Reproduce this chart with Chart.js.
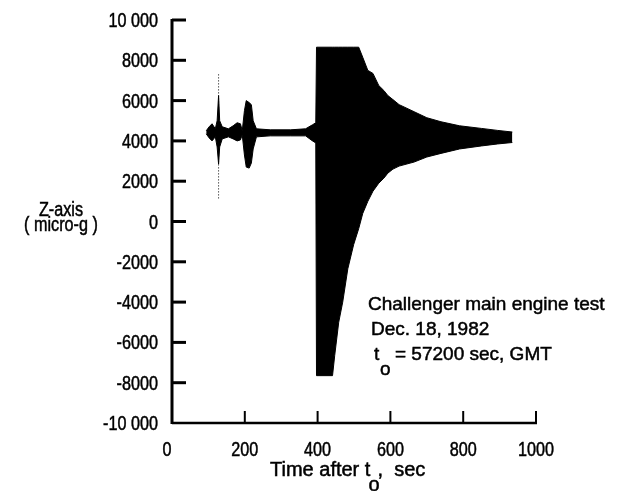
<!DOCTYPE html>
<html>
<head>
<meta charset="utf-8">
<script src="https://cdn.jsdelivr.net/npm/chart.js@4"></script>
<style>
  html, body { margin: 0; padding: 0; background: #fff; }
  canvas { display: block; }
</style>
</head>
<body>
<canvas id="chart" width="625" height="491"></canvas>
<script>
// envelope of the Z-axis trace (sec, micro-g)
const times = [94, 102, 110, 119, 124, 128, 131, 138, 155, 168, 179, 188, 193, 199, 204, 212, 218, 223, 232,
  270, 326, 367, 386, 395, 397, 441, 447, 458, 469, 483, 499, 513, 524, 538, 552, 568, 582, 593,
  607, 624, 665, 700, 739, 790, 850, 895, 935];
const upperEnv = [4500, 4700, 4850, 4600, 5000, 6250, 5000, 4700, 4600, 4750, 4900, 4850, 4500, 5500, 6000, 5900, 5800, 5000, 4600,
  4550, 4550, 4600, 4800, 4900, 8650, 8650, 8650, 8650, 8650, 8650, 8650, 8650, 8150, 7500, 7350, 6750, 6500, 6250,
  6050, 5800, 5450, 5150, 4950, 4750, 4620, 4520, 4440];
const lowerEnv = [4350, 4150, 4000, 4200, 3700, 2850, 3700, 4100, 4200, 4100, 4000, 4050, 4300, 3300, 2700, 2650, 2900, 3600, 4200,
  4250, 4250, 4250, 4000, 3900, -7650, -7650, -6650, -5000, -4000, -2350, -1150, -350, 400, 1000, 1500, 1900, 2150, 2400,
  2600, 2750, 2950, 3200, 3380, 3600, 3750, 3850, 3920];

// thin dotted excursion of the first spike
const spikeTimes = [128, 128];
const spikeValues = [7300, 1100];

const xTickLabels = ["0", "200", "400", "600", "800", "1000"];
const yTickLabels = ["-10 000", "-8000", "-6000", "-4000", "-2000", "0", "2000", "4000", "6000", "8000", "10 000"];

const tickFont = "20px 'Liberation Sans', Arial, sans-serif";
const textFont = "19px 'Liberation Sans', Arial, sans-serif";
const titleFont = "20px 'Liberation Sans', Arial, sans-serif";
const squeeze = 0.81; // the figure uses a condensed face

const toPoints = (xs, ys) => xs.map((x, i) => ({ x: x, y: ys[i] }));

// slightly heavy text, like the scanned figure
function inkText(ctx, str, x, y) {
  ctx.fillText(str, x, y);
  ctx.strokeText(str, x, y);
}

// same, squeezed horizontally
function narrowText(ctx, str, x, y, align) {
  ctx.save();
  ctx.translate(x, y);
  ctx.scale(squeeze, 1);
  ctx.textAlign = align;
  inkText(ctx, str, 0, 0);
  ctx.restore();
}

const axesAndText = {
  id: "axesAndText",
  afterDraw(chart) {
    const ctx = chart.ctx;
    const xs = chart.scales.x;
    const ys = chart.scales.y;
    const left = xs.getPixelForValue(0);
    const right = xs.getPixelForValue(1000);
    const top = ys.getPixelForValue(10000);
    const bottom = ys.getPixelForValue(-10000);
    ctx.save();
    ctx.strokeStyle = "#000";
    ctx.fillStyle = "#000";
    ctx.lineCap = "butt";
    ctx.textBaseline = "alphabetic";

    // y axis and inward ticks
    ctx.lineWidth = 3;
    ctx.beginPath();
    ctx.moveTo(left, top - 1);
    ctx.lineTo(left, bottom + 1);
    ctx.stroke();
    ys.ticks.forEach((t) => {
      if (t.value === -10000) return;
      const py = ys.getPixelForValue(t.value);
      ctx.beginPath();
      ctx.moveTo(left, py);
      ctx.lineTo(left + 14, py);
      ctx.stroke();
    });

    // x axis and upward ticks
    ctx.lineWidth = 2.5;
    ctx.beginPath();
    ctx.moveTo(left, bottom);
    ctx.lineTo(right + 1, bottom);
    ctx.stroke();
    ctx.lineWidth = 2;
    xs.ticks.forEach((t) => {
      if (t.value === 0) return;
      const px = xs.getPixelForValue(t.value);
      ctx.beginPath();
      ctx.moveTo(px, bottom);
      ctx.lineTo(px, bottom - 12);
      ctx.stroke();
    });

    // tick labels
    ctx.lineWidth = 0.5;
    ctx.font = tickFont;
    ys.ticks.forEach((t, i) => {
      narrowText(ctx, yTickLabels[i], left - 14, ys.getPixelForValue(t.value) + 7, "right");
    });
    xs.ticks.forEach((t, i) => {
      const px = xs.getPixelForValue(t.value) - (t.value === 0 ? 5 : 0);
      narrowText(ctx, xTickLabels[i], px, bottom + 33, "center");
    });

    // y axis title
    ctx.font = titleFont;
    narrowText(ctx, "Z-axis", 61, 216, "center");
    narrowText(ctx, "( micro-g )", 61, 231, "center");

    // x axis title with subscript
    ctx.font = titleFont;
    ctx.textAlign = "left";
    const part1 = "Time after t";
    const w1 = ctx.measureText(part1).width;
    const wo = ctx.measureText("o").width;
    const x0 = 270;
    inkText(ctx, part1, x0, 476);
    inkText(ctx, "o", x0 + w1 - 2, 491);
    inkText(ctx, ",  sec", x0 + w1 + wo - 4, 476);

    // annotation
    ctx.font = textFont;
    inkText(ctx, "Challenger main engine test", 368, 310);
    inkText(ctx, "Dec. 18, 1982", 371, 335);
    inkText(ctx, "t", 374, 360);
    inkText(ctx, "o", 380, 375);
    inkText(ctx, "= 57200 sec, GMT", 395, 360);
    ctx.restore();
  },
};

new Chart(document.getElementById("chart"), {
  type: "line",
  data: {
    datasets: [
      {
        data: toPoints(times, upperEnv),
        borderColor: "#000",
        backgroundColor: "#000",
        borderWidth: 1,
        pointRadius: 0,
        fill: "+1",
      },
      {
        data: toPoints(times, lowerEnv),
        borderColor: "#000",
        backgroundColor: "#000",
        borderWidth: 1,
        pointRadius: 0,
        fill: false,
      },
      {
        data: toPoints(spikeTimes, spikeValues),
        borderColor: "#000",
        borderWidth: 1,
        borderDash: [1, 2],
        pointRadius: 0,
        fill: false,
      },
    ],
  },
  options: {
    responsive: false,
    animation: false,
    layout: { padding: { top: 20, right: 89, left: 0, bottom: 0 } },
    plugins: { legend: { display: false }, tooltip: { enabled: false } },
    scales: {
      x: {
        type: "linear",
        min: 0,
        max: 1000,
        grid: { display: false, drawTicks: false },
        border: { display: false },
        ticks: { stepSize: 200, autoSkip: false, display: false },
        afterFit: (s) => { s.height = 68; },
      },
      y: {
        min: -10000,
        max: 10000,
        grid: { display: false, drawTicks: false },
        border: { display: false },
        ticks: { stepSize: 2000, autoSkip: false, display: false },
        afterFit: (s) => { s.width = 172; },
      },
    },
  },
  plugins: [axesAndText],
});
</script>
</body>
</html>
